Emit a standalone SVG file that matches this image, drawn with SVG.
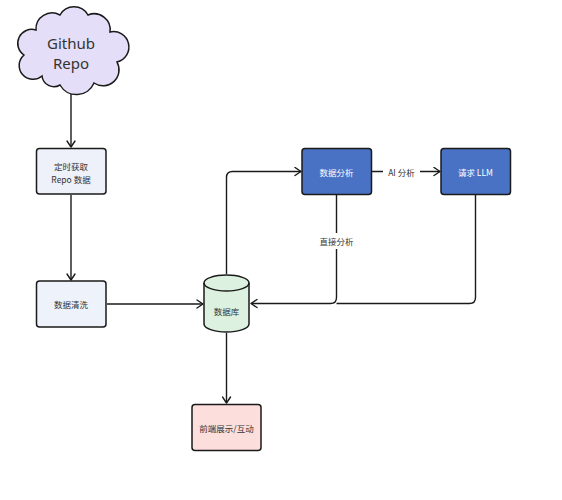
<svg xmlns="http://www.w3.org/2000/svg" width="562" height="500" viewBox="0 0 562 500">
<defs>
<marker id="arr" viewBox="0 0 8 10" refX="7" refY="5" markerWidth="8" markerHeight="10" markerUnits="userSpaceOnUse" orient="auto">
<path d="M1,1 L7,5 L1,9" fill="none" stroke="#1a1a1a" stroke-width="1.4" stroke-linecap="round" stroke-linejoin="round"/>
</marker>
<style>
.n{stroke:#1a1a1a;stroke-width:1.5}
.t{font-family:"Noto Sans CJK SC","Noto Sans",sans-serif;font-size:8.5px;fill:#333;text-anchor:middle;dominant-baseline:central}
.w{fill:#fff}
.e{fill:none;stroke:#1a1a1a;stroke-width:1.4;marker-end:url(#arr)}
.p{fill:none;stroke:#1a1a1a;stroke-width:1.4}
.lb{font-family:"Noto Sans CJK SC","Noto Sans",sans-serif;font-size:8.5px;fill:#333;text-anchor:middle;dominant-baseline:central}
</style>
</defs>
<rect width="562" height="500" fill="#fff"/>
<g id="connectors">
<path class="e" d="M71 89 L71 147"/>
<path class="e" d="M71 195 L71 280"/>
<path class="e" d="M107 304 L203 304"/>
<path class="e" d="M226.5 333 L226.5 403"/>
<path class="e" d="M226.5 274 L226.5 177.5 Q226.5 171.5 232.5 171.5 L301 171.5"/>
<path class="e" d="M372 171.5 L440 171.5"/>
<path class="e" d="M336.5 195 L336.5 297.5 Q336.5 303.5 330.5 303.5 L251 303.5"/>
<path class="p" d="M475.5 195 L475.5 297.5 Q475.5 303.5 469.5 303.5 L336.5 303.5"/>
<rect x="383" y="164" width="37" height="15" fill="#fff"/>
<text class="lb" x="401.5" y="171.5">AI 分析</text>
<rect x="318" y="233" width="37" height="16" fill="#fff"/>
<text class="lb" x="336.5" y="241">直接分析</text>
</g>
<g id="github">
<path class="n" fill="#e4def8" d="M42 76 A13 13 0 0 1 24 55 A14 14 0 0 1 36 30 A16 16 0 0 1 60 15 A16 16 0 0 1 88 15 A16 16 0 0 1 110 32 A15 15 0 0 1 117 62 A16 16 0 0 1 94 83 A19 19 0 0 1 60 85 A12 12 0 0 1 42 76 Z"/>
<text x="71" y="43" font-family="'Noto Sans','Open Sans',sans-serif" font-size="15" fill="#333" text-anchor="middle" dominant-baseline="central">Github</text>
<text x="71" y="63" font-family="'Noto Sans','Open Sans',sans-serif" font-size="15" fill="#333" text-anchor="middle" dominant-baseline="central">Repo</text>
</g>
<g id="fetch">
<rect class="n" x="36.5" y="148.5" width="69.5" height="45.5" rx="3" fill="#eef0fa"/>
<text class="t" x="71" y="165.5">定时获取</text>
<text class="t" x="71" y="178.5">Repo 数据</text>
</g>
<g id="clean">
<rect class="n" x="36.5" y="281" width="69.5" height="46" rx="3" fill="#eef2fb"/>
<text class="t" x="71" y="304">数据清洗</text>
</g>
<g id="db">
<path class="n" fill="#dcf1df" d="M204 283 A22.5 8 0 0 1 249 283 L249 324 A22.5 8 0 0 1 204 324 Z"/>
<path class="n" fill="none" d="M204 283 A22.5 8 0 0 0 249 283"/>
<text class="t" x="226.5" y="311">数据库</text>
</g>
<g id="frontend">
<rect class="n" x="192" y="404.5" width="69" height="46" rx="3" fill="#fcdedd"/>
<text class="t" x="226.5" y="428">前端展示/互动</text>
</g>
<g id="analysis">
<rect class="n" x="302" y="148.5" width="69.5" height="46" rx="3" fill="#4a72c4"/>
<text class="t w" x="336.5" y="171.5">数据分析</text>
</g>
<g id="llm">
<rect class="n" x="441" y="148.5" width="69.5" height="46" rx="3" fill="#4a72c4"/>
<text class="t w" x="475.5" y="171.5">请求 LLM</text>
</g>
</svg>
